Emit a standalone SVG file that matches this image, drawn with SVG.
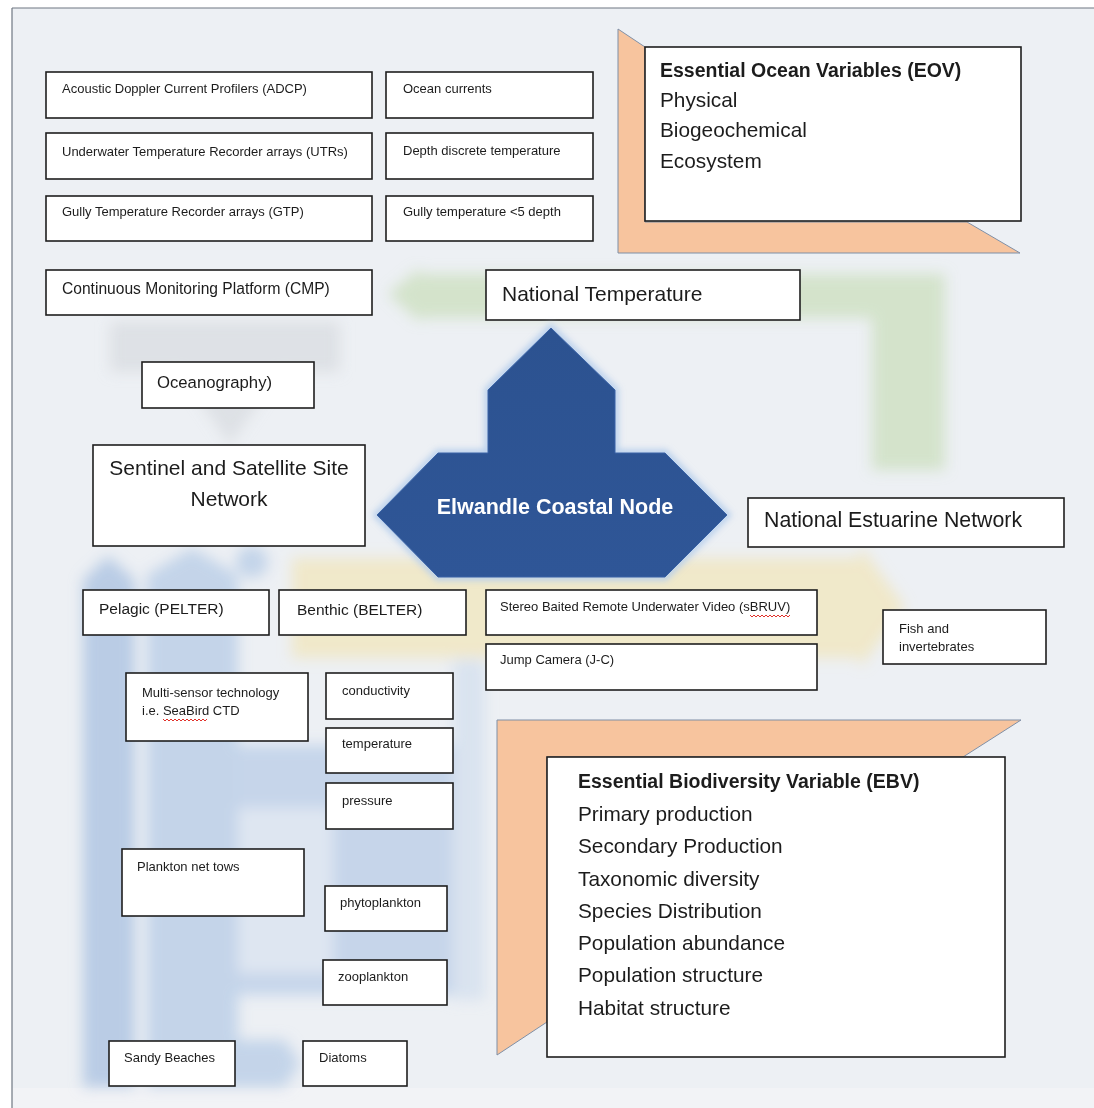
<svg xmlns="http://www.w3.org/2000/svg" width="1094" height="1108" viewBox="0 0 1094 1108">
  <defs>
    <style>
      .box { fill: #ffffff; stroke: #1f1f1f; stroke-width: 1.6; }
      .t { font-family: "Liberation Sans", Arial, sans-serif; fill: #1c1c1c; dominant-baseline: central; }
      .sm { font-size: 13px; }
      .md { font-size: 15.5px; }
      .lg { font-size: 21px; }
      .hd { font-size: 19.5px; font-weight: bold; }
      .li { font-size: 20.8px; }
      .frame { fill: #f7c49e; stroke: #7f8fa6; stroke-width: 1; }
      .squiggle { fill: none; stroke: #e0302a; stroke-width: 1; }
    </style>
    <filter id="soft" x="-20%" y="-20%" width="140%" height="140%">
      <feGaussianBlur stdDeviation="7"/>
    </filter>
    <filter id="glow" x="-20%" y="-20%" width="140%" height="140%">
      <feGaussianBlur stdDeviation="3"/>
    </filter>
    <linearGradient id="hubFill" x1="0" y1="0" x2="0" y2="1">
      <stop offset="0" stop-color="#2c5290"/>
      <stop offset="1" stop-color="#2f5697"/>
    </linearGradient>
  </defs>

  <!-- page -->
  <rect x="0" y="0" width="1094" height="1108" fill="#ffffff"/>
  <rect x="12" y="8" width="1082" height="1080" fill="#edf0f4"/>
  <rect x="12" y="1088" width="1082" height="20" fill="#f2f3f6"/>
  <line x1="12" y1="8" x2="1094" y2="8" stroke="#6f7782" stroke-width="1.2"/>
  <line x1="12" y1="8" x2="12" y2="1108" stroke="#6f7782" stroke-width="1.2"/>

  <!-- faded flow arrows behind the boxes -->
  <g id="connectors" filter="url(#soft)">
    <!-- grey arrow: CMP down to Oceanography -->
    <polygon points="110,322 340,322 340,372 280,372 230,445 180,372 110,372" fill="#d3d7dc" opacity="0.6"/>
    <!-- green L arrow: National Temperature band -->
    <polygon points="388,294 420,268 420,274 945,274 945,470 872,470 872,318 420,318 420,322" fill="#bfd9aa" opacity="0.55"/>
    <!-- yellow arrow: Benthic to fish and invertebrates -->
    <polygon points="292,558 860,558 860,545 905,607 860,668 860,658 292,658" fill="#f3e2a0" opacity="0.5"/>
    <!-- blue arrows: Pelagic branch -->
    <g opacity="0.75">
      <polygon points="83,580 108,556 135,580 135,1087 83,1087" fill="#a8c1e1"/>
      <polygon points="147,575 192,548 238,575 238,1087 147,1087" fill="#b6cbe6"/>
      <rect x="238" y="745" width="215" height="250" fill="#b8cde7"/>
      <rect x="238" y="808" width="95" height="165" fill="#d9e3f0"/>
      <polygon points="235,1040 285,1040 300,1063 285,1087 235,1087" fill="#b6cbe6"/>
      <rect x="453" y="660" width="32" height="340" fill="#d3dfee"/>
      <circle cx="252" cy="562" r="16" fill="#b6cbe6"/>
    </g>
  </g>

  <!-- top-left instruments -->
  <g id="adcp"><rect class="box" x="46" y="72" width="326" height="46"/><text class="t sm" x="62" y="88">Acoustic Doppler Current Profilers (ADCP)</text></g>
  <g id="utr"><rect class="box" x="46" y="133" width="326" height="46"/><text class="t sm" x="62" y="151">Underwater Temperature Recorder arrays (UTRs)</text></g>
  <g id="gtp"><rect class="box" x="46" y="196" width="326" height="45"/><text class="t sm" x="62" y="211">Gully Temperature Recorder arrays (GTP)</text></g>
  <g id="ocean-currents"><rect class="box" x="386" y="72" width="207" height="46"/><text class="t sm" x="403" y="88">Ocean currents</text></g>
  <g id="depth-temp"><rect class="box" x="386" y="133" width="207" height="46"/><text class="t sm" x="403" y="150">Depth discrete temperature</text></g>
  <g id="gully-temp"><rect class="box" x="386" y="196" width="207" height="45"/><text class="t sm" x="403" y="211">Gully temperature &lt;5 depth</text></g>
  <g id="cmp"><rect class="box" x="46" y="270" width="326" height="45"/><text class="t" style="font-size:15.6px" x="62" y="288">Continuous Monitoring Platform (CMP)</text></g>

  <!-- EOV panel -->
  <g id="eov">
    <polygon class="frame" points="618,29 645,47 645,222 967,222 1020,253 618,253"/>
    <rect class="box" x="645" y="47" width="376" height="174"/>
    <text class="t hd" x="660" y="70">Essential Ocean Variables (EOV)</text>
    <text class="t li" x="660" y="99">Physical</text>
    <text class="t li" x="660" y="129">Biogeochemical</text>
    <text class="t li" x="660" y="160">Ecosystem</text>
  </g>

  <g id="national-temperature"><rect class="box" x="486" y="270" width="314" height="50"/><text class="t lg" x="502" y="293">National Temperature</text></g>
  <g id="oceanography"><rect class="box" x="142" y="362" width="172" height="46"/><text class="t" style="font-size:16.7px" x="157" y="382">Oceanography)</text></g>
  <g id="sentinel">
    <rect class="box" x="93" y="445" width="272" height="101"/>
    <text class="t lg" x="229" y="467" text-anchor="middle">Sentinel and Satellite Site</text>
    <text class="t lg" x="229" y="498" text-anchor="middle">Network</text>
  </g>

  <!-- central hub -->
  <g id="hub">
    <polygon points="551,328 615,390 615,453 665,453 727,515 665,577 438,577 377,515 438,453 488,453 488,390" fill="none" stroke="#b7cfec" stroke-width="7" filter="url(#glow)"/>
    <polygon points="551,328 615,390 615,453 665,453 727,515 665,577 438,577 377,515 438,453 488,453 488,390" fill="url(#hubFill)" stroke="#3a63a6" stroke-width="1"/>
    <text class="t" x="555" y="507" text-anchor="middle" style="font-size:21.5px;font-weight:bold;fill:#ffffff">Elwandle Coastal Node</text>
  </g>

  <g id="estuarine"><rect class="box" x="748" y="498" width="316" height="49"/><text class="t" style="font-size:21.3px" x="764" y="520">National Estuarine Network</text></g>

  <g id="pelagic"><rect class="box" x="83" y="590" width="186" height="45"/><text class="t md" x="99" y="608">Pelagic (PELTER)</text></g>
  <g id="benthic"><rect class="box" x="279" y="590" width="187" height="45"/><text class="t md" x="297" y="609">Benthic (BELTER)</text></g>
  <g id="sbruv">
    <rect class="box" x="486" y="590" width="331" height="45"/>
    <text class="t sm" x="500" y="606">Stereo Baited Remote Underwater Video (sBRUV)</text>
    <path class="squiggle" d="M750,615 l2,2 l2,-2 l2,2 l2,-2 l2,2 l2,-2 l2,2 l2,-2 l2,2 l2,-2 l2,2 l2,-2 l2,2 l2,-2 l2,2 l2,-2 l2,2 l2,-2 l2,2 l2,-2"/>
  </g>
  <g id="jump-camera"><rect class="box" x="486" y="644" width="331" height="46"/><text class="t sm" x="500" y="659">Jump Camera (J-C)</text></g>
  <g id="fish">
    <rect class="box" x="883" y="610" width="163" height="54"/>
    <text class="t sm" x="899" y="628">Fish and</text>
    <text class="t sm" x="899" y="646">invertebrates</text>
  </g>

  <!-- pelagic instruments -->
  <g id="ctd">
    <rect class="box" x="126" y="673" width="182" height="68"/>
    <text class="t sm" x="142" y="692">Multi-sensor technology</text>
    <text class="t sm" x="142" y="710">i.e. SeaBird CTD</text>
    <path class="squiggle" d="M163,719 l2,2 l2,-2 l2,2 l2,-2 l2,2 l2,-2 l2,2 l2,-2 l2,2 l2,-2 l2,2 l2,-2 l2,2 l2,-2 l2,2 l2,-2 l2,2 l2,-2 l2,2 l2,-2 l2,2 l2,-2"/>
  </g>
  <g id="conductivity"><rect class="box" x="326" y="673" width="127" height="46"/><text class="t sm" x="342" y="690">conductivity</text></g>
  <g id="temperature"><rect class="box" x="326" y="728" width="127" height="45"/><text class="t sm" x="342" y="743">temperature</text></g>
  <g id="pressure"><rect class="box" x="326" y="783" width="127" height="46"/><text class="t sm" x="342" y="800">pressure</text></g>
  <g id="plankton"><rect class="box" x="122" y="849" width="182" height="67"/><text class="t sm" x="137" y="866">Plankton net tows</text></g>
  <g id="phytoplankton"><rect class="box" x="325" y="886" width="122" height="45"/><text class="t sm" x="340" y="902">phytoplankton</text></g>
  <g id="zooplankton"><rect class="box" x="323" y="960" width="124" height="45"/><text class="t sm" x="338" y="976">zooplankton</text></g>
  <g id="sandy-beaches"><rect class="box" x="109" y="1041" width="126" height="45"/><text class="t sm" x="124" y="1057">Sandy Beaches</text></g>
  <g id="diatoms"><rect class="box" x="303" y="1041" width="104" height="45"/><text class="t sm" x="319" y="1057">Diatoms</text></g>

  <!-- EBV panel -->
  <g id="ebv">
    <polygon class="frame" points="497,720 1021,720 963,757 547,757 547,1022 497,1055"/>
    <rect class="box" x="547" y="757" width="458" height="300"/>
    <text class="t hd" x="578" y="781">Essential Biodiversity Variable (EBV)</text>
    <text class="t li" x="578" y="813">Primary production</text>
    <text class="t li" x="578" y="845">Secondary Production</text>
    <text class="t li" x="578" y="878">Taxonomic diversity</text>
    <text class="t li" x="578" y="910">Species Distribution</text>
    <text class="t li" x="578" y="942">Population abundance</text>
    <text class="t li" x="578" y="974">Population structure</text>
    <text class="t li" x="578" y="1007">Habitat structure</text>
  </g>
</svg>
